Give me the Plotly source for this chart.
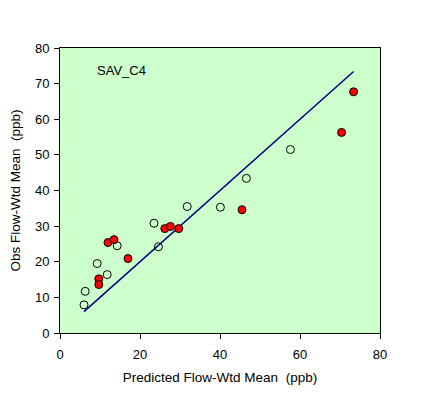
import plotly.graph_objects as go

open_x = [6.0, 6.3, 9.3, 11.8, 14.3, 23.5, 24.6, 31.8, 40.1, 46.6, 57.6]
open_y = [7.9, 11.7, 19.5, 16.4, 24.5, 30.8, 24.2, 35.5, 35.3, 43.4, 51.5]

red_x = [9.7, 9.7, 12.0, 13.5, 17.0, 26.2, 27.6, 29.7, 45.5, 70.4, 73.4]
red_y = [15.2, 13.6, 25.4, 26.2, 20.9, 29.3, 29.9, 29.3, 34.6, 56.3, 67.7]

line_x = [6.0, 73.4]
line_y = [6.0, 73.4]

x_ticks = [0, 20, 40, 60, 80]
y_ticks = [0, 10, 20, 30, 40, 50, 60, 70, 80]

font = dict(family="Liberation Sans, Arial, sans-serif", size=13, color="black")
title_font = dict(family="Liberation Sans, Arial, sans-serif", size=13.5, color="black")

fig = go.Figure()
fig.add_trace(go.Scatter(x=line_x, y=line_y, mode="lines",
                         line=dict(color="#000080", width=1.5), showlegend=False))
fig.add_trace(go.Scatter(x=open_x, y=open_y, mode="markers",
                         marker=dict(size=8, color="rgba(0,0,0,0)", line=dict(color="black", width=1)),
                         showlegend=False))
fig.add_trace(go.Scatter(x=red_x, y=red_y, mode="markers",
                         marker=dict(size=8, color="#FF0000", line=dict(color="black", width=1)),
                         showlegend=False))

fig.add_annotation(x=8.8, y=73.6, text="SAV_C4", showarrow=False, xanchor="left", yanchor="middle",
                   font=font)

fig.update_layout(
    width=421, height=386,
    margin=dict(l=52, r=49, t=40, b=61),
    paper_bgcolor="white", plot_bgcolor="#CCFFCC",
    font=font,
    xaxis=dict(range=[0, 80], tickvals=x_ticks, showgrid=False, zeroline=False, automargin=False,
               showline=True, linecolor="black", linewidth=1, mirror=True,
               ticks="outside", ticklen=5, tickcolor="black", ticklabelstandoff=4,
               title=dict(text="Predicted Flow-Wtd Mean  (ppb)", font=title_font, standoff=11)),
    yaxis=dict(range=[0, 80], tickvals=y_ticks, showgrid=False, zeroline=False, automargin=False,
               showline=True, linecolor="black", linewidth=1, mirror=True,
               ticks="outside", ticklen=5, tickcolor="black", ticklabelstandoff=2,
               title=dict(text="Obs Flow-Wtd Mean  (ppb)", font=title_font, standoff=12)),
)

fig.write_html("out.html")
